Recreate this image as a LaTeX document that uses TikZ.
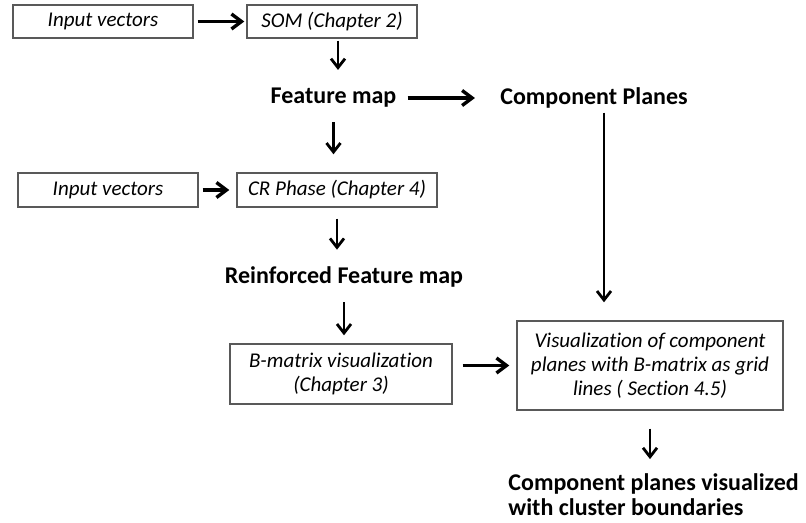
\documentclass[tikz,border=0pt]{standalone}
\usepackage{fontspec}
\setmainfont{Carlito}[Ligatures=NoCommon]
\usetikzlibrary{arrows.meta,shadows}

\begin{document}
\begin{tikzpicture}[
    x=0.5pt, y=-0.5pt,
    % Boxes hold the processing steps, bold labels the maps they give.
    box/.style={
        draw=black!65,
        line width=0.7pt,
        fill=white,
        align=center,
        inner sep=2pt,
        font=\fontsize{10.5}{12}\selectfont\itshape,
        drop shadow={shadow xshift=0.7pt, shadow yshift=-0.7pt, fill=black!22, opacity=0.8}
    },
    result/.style={
        inner sep=0pt,
        font=\fontsize{12}{12.5}\selectfont\bfseries
    },
    arrow/.style={-{Straight Barb[length=5pt,width=7.5pt]}, line width=1.7pt},
    downarrow/.style={-{Straight Barb[length=4.5pt,width=7pt]}, line width=1.4pt}
]
    \useasboundingbox (0,0) rectangle (806,523);

    \node[box, minimum width=90pt, minimum height=16.5pt] (input1) at (103,21.5) {Input vectors};
    \node[box, minimum width=85pt, minimum height=16.5pt] (som) at (332,21.5) {SOM (Chapter 2)};

    \node[result] (featmap) at (333.5,98) {Feature map};
    \node[result] (planes) at (594,98) {Component Planes};

    \node[box, minimum width=90pt, minimum height=17pt] (input2) at (108,190) {Input vectors};
    \node[box, minimum width=100pt, minimum height=17pt] (crphase) at (337,190) {CR Phase (Chapter 4)};

    \node[result] (reinforced) at (344,277) {Reinforced Feature map};

    \node[box, minimum width=111pt, minimum height=30pt] (bmatrix) at (341,374)
        {B-matrix visualization\\(Chapter 3)};
    \node[box, minimum width=133pt, minimum height=44.5pt] (vis) at (650,365.5)
        {Visualization of component\\planes with B-matrix as grid\\lines ( Section 4.5)};

    \node[result, align=left, anchor=west] (clusters) at (508,494.5)
        {Component planes visualized\\with cluster boundaries};

    \draw[arrow, shorten <=2pt, shorten >=1pt] (input1.east) -- (som.west);
    \draw[arrow, shorten <=5.5pt, shorten >=12.5pt] (featmap.east) -- (planes.west);
    \draw[arrow, shorten <=2pt, shorten >=3.5pt] (input2.east) -- (crphase.west);
    \draw[arrow, shorten <=5pt, shorten >=3.5pt] (bmatrix.east |- vis.west) -- (vis.west);

    \draw[downarrow, shorten <=1pt, shorten >=9pt] ([xshift=3pt]som.south) -- ([xshift=3pt]som.south |- featmap.north);
    \draw[downarrow, shorten <=7pt, shorten >=9pt] (featmap.south) -- (featmap.south |- crphase.north);
    \draw[downarrow, shorten <=5.5pt, shorten >=8.3pt] (crphase.south) -- (crphase.south |- reinforced.north);
    \draw[downarrow, shorten <=7.3pt, shorten >=4pt] (reinforced.south) -- (reinforced.south |- bmatrix.north);
    \draw[downarrow, shorten <=2pt, shorten >=9pt]
        ([xshift=5pt]planes.south) -- ([xshift=5pt]planes.south |- vis.north);
    \draw[downarrow, shorten <=9pt, shorten >=7pt] (vis.south) -- (vis.south |- clusters.north);
\end{tikzpicture}
\end{document}
